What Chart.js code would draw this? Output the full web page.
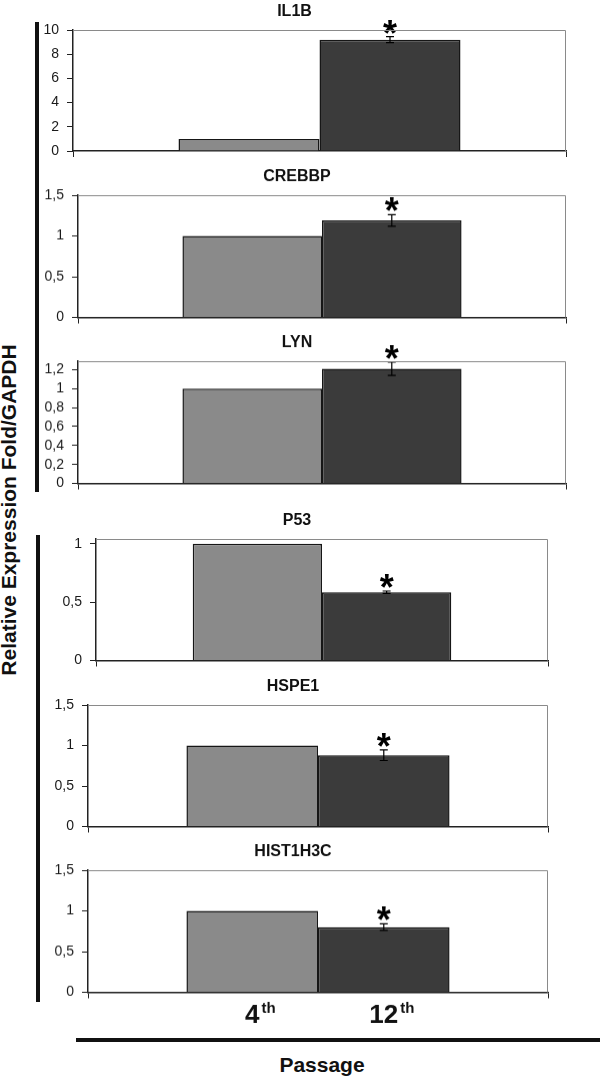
<!DOCTYPE html>
<html>
<head>
<meta charset="utf-8">
<script src="https://cdn.jsdelivr.net/npm/chart.js@4.4.1/dist/chart.umd.min.js"></script>
<style>
  html, body { margin: 0; padding: 0; background: #fff; }
  #page { position: relative; width: 600px; height: 1078px; overflow: hidden;
          font-family: "Liberation Sans", Arial, sans-serif; }
  .panel { position: absolute; }
  .bracket { position: absolute; background: #111; width: 3.5px; }
  #ytitle { position: absolute; left: 9px; top: 510px; transform: translate(-50%, -50%) rotate(-90deg);
            font-weight: bold; font-size: 21px; white-space: nowrap; color: #111; }
  #xline { position: absolute; left: 76px; top: 1038px; width: 524px; height: 4px; background: #111; }
  #xtitle { position: absolute; left: 322px; top: 1065px; transform: translate(-50%, -50%);
            font-weight: bold; font-size: 21px; color: #111; }
</style>
</head>
<body>
<div id="page">
  <div class="bracket" style="left:35px; top:22px; height:470px;"></div>
  <div class="bracket" style="left:36px; top:535px; height:467px;"></div>
  <div id="ytitle">Relative Expression Fold/GAPDH</div>
  <div id="xline"></div>
  <div id="xtitle">Passage</div>
</div>
<script>
// Data

const genes = ['IL1B', 'CREBBP', 'LYN', 'P53', 'HSPE1', 'HIST1H3C'];
const passages = ['4th', '12th'];
const passage4 = [1, 1, 1, 1, 1, 1];
const passage12 = [9.2, 1.19, 1.21, 0.585, 0.88, 0.80];
const error12 = [0.25, 0.07, 0.07, 0.01, 0.065, 0.04];
const significant = [true, true, true, true, true, true];
const yMax = [10, 1.5, 1.29, 1.04, 1.5, 1.5];
const yStep = [2, 0.5, 0.2, 0.5, 0.5, 0.5];

// Layout of each plot area on the page

const plotBoxes = [
    {left: 72.5, top: 30,    right: 565.5, bottom: 151},
    {left: 77.5, top: 195,   right: 565.5, bottom: 316.5},
    {left: 77.5, top: 361,   right: 565.5, bottom: 482.5},
    {left: 95.5, top: 538.5, right: 547.5, bottom: 660},
    {left: 87.5, top: 704.5, right: 547.5, bottom: 826},
    {left: 87.5, top: 870,   right: 547.5, bottom: 991.5},
];

const AXIS_W = 50;
const TITLE_H = 28;
const TICK_PAD = 8;
const TICK_SIZE = 14;
const TICK_LEN = 6;
// y axis asks for half a label + padding below the plot
const BOTTOM_H = TICK_SIZE * 1.2 / 2 + TICK_PAD;
const FONT = '"Liberation Sans", Arial, sans-serif';

Chart.defaults.font.family = FONT;
Chart.defaults.color = '#111';

function fmt(v){
    return String(Number(v.toFixed(2))).replace('.', ',');
}

// gray frame on top and right of the plot area
const frame = {
    id: 'frame',
    afterDraw(chart){
        const a = chart.chartArea, c = chart.ctx;
        c.save();
        c.strokeStyle = '#8a8a8a';
        c.lineWidth = 1;
        c.beginPath();
        c.moveTo(a.left, a.top + 0.5);
        c.lineTo(a.right - 0.5, a.top + 0.5);
        c.lineTo(a.right - 0.5, a.bottom);
        c.stroke();
        c.restore();
    }
};

// error bars + asterisks on the 12th passage bars
const errorBars = {
    id: 'errorBars',
    afterDatasetsDraw(chart, args, opts){
        const c = chart.ctx, y = chart.scales.y;
        const bar = chart.getDatasetMeta(1).data[0];
        const v = chart.data.datasets[1].data[0];
        const top = y.getPixelForValue(v + opts.err);
        const bot = y.getPixelForValue(v - opts.err);
        c.save();
        c.strokeStyle = '#000';
        c.lineWidth = 1.2;
        c.beginPath();
        c.moveTo(bar.x, top); c.lineTo(bar.x, bot);
        c.moveTo(bar.x - 4, top); c.lineTo(bar.x + 4, top);
        c.moveTo(bar.x - 4, bot); c.lineTo(bar.x + 4, bot);
        c.stroke();
        if (opts.sig) {
            c.fillStyle = '#000';
            c.font = 'bold 36px ' + FONT;
            c.textAlign = 'center';
            c.textBaseline = 'alphabetic';
            c.fillText('*', bar.x, top + 9);
        }
        c.restore();
    }
};

// "4th" / "12th" under the bars of the last panel
const passageLabels = {
    id: 'passageLabels',
    afterDraw(chart, args, opts){
        if (!opts.show) return;
        const c = chart.ctx, a = chart.chartArea;
        c.save();
        c.fillStyle = '#111';
        c.textBaseline = 'alphabetic';
        passages.forEach((p, i) => {
            const bar = chart.getDatasetMeta(i).data[0];
            const num = p.replace('th', '');
            c.font = 'bold 26px ' + FONT;
            c.textAlign = 'center';
            c.fillText(num, bar.x, a.bottom + 30);
            const w = c.measureText(num).width;
            c.font = 'bold 15px ' + FONT;
            c.textAlign = 'left';
            c.fillText('th', bar.x + w / 2 + 2, a.bottom + 20);
        });
        c.restore();
    }
};

const page = document.getElementById('page');

genes.forEach((gene, i) => {
    const box = plotBoxes[i];
    const last = i === genes.length - 1;
    const padBottom = last ? 40 : 0;
    const bottomGap = Math.max(BOTTOM_H, TICK_LEN + padBottom);
    const div = document.createElement('div');
    div.className = 'panel';
    div.style.left = (box.left - AXIS_W) + 'px';
    div.style.top = (box.top - TITLE_H) + 'px';
    div.style.width = (AXIS_W + box.right - box.left + 3) + 'px';
    div.style.height = (TITLE_H + box.bottom - box.top + bottomGap) + 'px';
    const canvas = document.createElement('canvas');
    div.appendChild(canvas);
    page.appendChild(div);

    new Chart(canvas, {
        type: 'bar',
        data: {
            labels: [gene],
            datasets: [
                {label: passages[0], data: [passage4[i]], backgroundColor: '#8a8a8a'},
                {label: passages[1], data: [passage12[i]], backgroundColor: '#3b3b3b'},
            ]
        },
        options: {
            responsive: true,
            maintainAspectRatio: false,
            animation: false,
            datasets: {
                bar: {
                    categoryPercentage: 0.572,
                    barPercentage: 1,
                    borderColor: '#161616',
                    borderWidth: 1.5,
                }
            },
            layout: {padding: {left: 0, top: 0, right: 3, bottom: padBottom}},
            scales: {
                x: {
                    ticks: {display: false},
                    grid: {drawOnChartArea: false, tickLength: TICK_LEN, color: '#222'},
                    border: {color: '#222', width: 1.5},
                },
                y: {
                    min: 0,
                    max: yMax[i],
                    afterFit(scale){ scale.width = AXIS_W; },
                    ticks: {
                        stepSize: yStep[i],
                        includeBounds: false,
                        padding: TICK_PAD,
                        font: {size: TICK_SIZE},
                        color: '#1a1a1a',
                        callback: v => fmt(v),
                    },
                    grid: {drawOnChartArea: false, tickLength: TICK_LEN, color: '#222'},
                    border: {color: '#222', width: 1.5},
                }
            },
            plugins: {
                legend: {display: false},
                tooltip: {enabled: false},
                title: {
                    display: true,
                    text: gene,
                    font: {size: 16, weight: 'bold', lineHeight: 1.25},
                    padding: {top: 0, bottom: 8},
                    color: '#111',
                },
                errorBars: {err: error12[i], sig: significant[i]},
                passageLabels: {show: last},
            }
        },
        plugins: [frame, errorBars, passageLabels]
    });
});
</script>
</body>
</html>
